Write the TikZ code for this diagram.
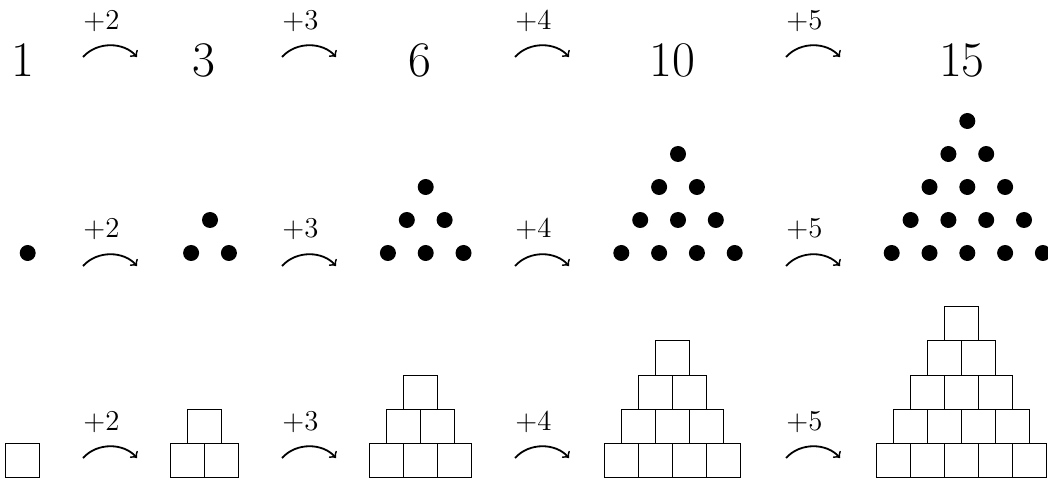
\documentclass[tikz,border=0pt]{standalone}
\begin{document}
\begin{tikzpicture}[x=0.5pt,y=-0.5pt,
  bignum/.style={anchor=base,inner sep=0pt,font=\fontsize{28}{34}\selectfont},
  steplabel/.style={anchor=base,inner sep=0pt,font=\fontsize{14}{17}\selectfont},
  arc/.style={->,line width=0.9pt},
  dotnode/.style={circle,fill=black,draw=none,minimum size=8pt,inner sep=0pt},
  sqnode/.style={rectangle,draw=black,line width=0.5pt,minimum size=17pt,inner sep=0pt}]
\useasboundingbox (0,0) rectangle (1048,480);
% top row numbers
\node[bignum] (n1) at (23,77) {$1$};
\node[bignum] (n2) at (204,77) {$3$};
\node[bignum] (n3) at (420,77) {$6$};
\node[bignum] (n4) at (672.5,77) {$10$};
\node[bignum] (n5) at (962,77) {$15$};
% arrows and labels in three rows
\foreach \xs/\lab [count=\k] in {83/2,282/3,515/4,786/5}{
  \foreach \ya/\yl/\rw in {57/29.5/t,266/238/m,458/430/b}{
    \coordinate (\rw\k s) at (\xs,\ya);
    \coordinate (\rw\k e) at (\xs+54,\ya);
    \draw[arc] (\rw\k s) .. controls +(14.5,-16) and +(-13,-15) .. (\rw\k e);
    \node[steplabel] (\rw\k lab) at (\xs+18.5,\yl) {$+\lab$};
  }
}
% dot triangles
\foreach \n/\cx in {1/27.7,2/210,3/425.7,4/678,5/967.3}{
  \foreach \r in {1,...,\n}{
    \foreach \i in {1,...,\r}{
      \node[dotnode] (d\n-\r-\i) at ({\cx+(\i-(\r+1)/2)*37.8},{253-(\n-\r)*33}) {};
    }
  }
}
% square pyramids
\foreach \n/\cx in {1/22,2/204,3/420,4/672,5/961.5}{
  \foreach \r in {1,...,\n}{
    \foreach \i in {1,...,\r}{
      \node[sqnode] (s\n-\r-\i) at ({\cx+(\i-(\r+1)/2)*34},{460-(\n-\r)*34}) {};
    }
  }
}
\end{tikzpicture}
\end{document}
